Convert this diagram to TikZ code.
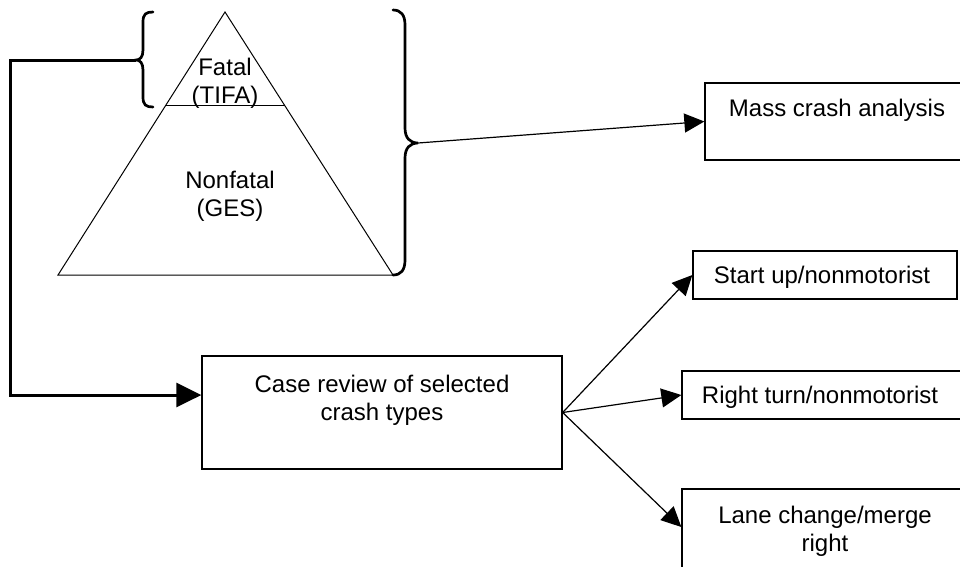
\documentclass[tikz,border=0pt]{standalone}
\usepackage{fontspec}
\setmainfont{Liberation Sans}
\usetikzlibrary{arrows.meta}
\begin{document}
\begin{tikzpicture}[x=1pt,y=-1pt,
  boxnode/.style={draw=black,line width=1.3pt,rectangle,inner sep=0pt},
  lbl/.style={anchor=base,align=center,inner sep=0pt,font=\fontsize{24}{28}\selectfont},
  conn/.style={line width=1.2pt,-{Triangle[length=20pt,width=19pt]}},
  thickconn/.style={line width=3pt,-{Triangle[length=25pt,width=24pt]}},
  bracepath/.style={line width=2.7pt,line cap=round},
  trianglepath/.style={line width=1pt,line join=miter}]
\clip (0,0) rectangle (960,566);
\fill[white] (0,0) rectangle (960,566);

% pyramid
\draw[trianglepath] (225,12) -- (393,275) -- (58,275) -- cycle;
\draw[trianglepath] (166,105) -- (284.5,105);
\node[lbl] (fatal) at (225,103) {Fatal\\(TIFA)};
\node[lbl] (nonfatal) at (230,216) {Nonfatal\\(GES)};

% braces
\coordinate (smalltip) at (136,60);
\draw[bracepath] (153,12) .. controls (146,12) and (143,14) .. (143,22) -- (143,50)
  .. controls (143,57) and (140,60) .. (smalltip)
  .. controls (140,60) and (143,63) .. (143,70) -- (143,97)
  .. controls (143,105) and (146,107) .. (153,107);
\coordinate (bigtip) at (418,143);
\draw[bracepath] (393,10) .. controls (401,10) and (405,15) .. (405,25) -- (405,128)
  .. controls (405,138) and (410,143) .. (bigtip)
  .. controls (410,143) and (405,148) .. (405,158) -- (405,260)
  .. controls (405,270) and (401,275) .. (393,275);

% boxes
\node[boxnode,minimum width=270pt,minimum height=77pt] (mass) at (840,121.5) {};
\node[lbl] (masst) at (837,116) {Mass crash analysis};
\node[boxnode,minimum width=360pt,minimum height=113pt] (case) at (382,412.5) {};
\node[lbl] (caset) at (382,420) {Case review of selected\\crash types};
\node[boxnode,minimum width=264pt,minimum height=48pt] (start) at (825,275) {};
\node[lbl] (startt) at (822,283) {Start up/nonmotorist};
\node[boxnode,minimum width=293pt,minimum height=48pt] (right) at (828.5,395) {};
\node[lbl] (rightt) at (820,403) {Right turn/nonmotorist};
\node[boxnode,minimum width=293pt,minimum height=91pt] (lane) at (828.5,534.5) {};
\node[lbl] (lanet) at (825,551) {Lane change/merge\\right};

% connectors
\draw[conn] (bigtip) -- (mass.west);
\coordinate (c1) at (10,60);
\coordinate (c2) at (10,395);
\draw[thickconn,line join=miter] (smalltip) -- (c1) -- (c2) -- (c2 -| case.west);
\draw[conn] (case.east) -- (start.west);
\draw[conn] (case.east) -- (right.west);
\draw[conn] (case.east) -- ([yshift=7.5pt]lane.west);
\end{tikzpicture}
\end{document}
